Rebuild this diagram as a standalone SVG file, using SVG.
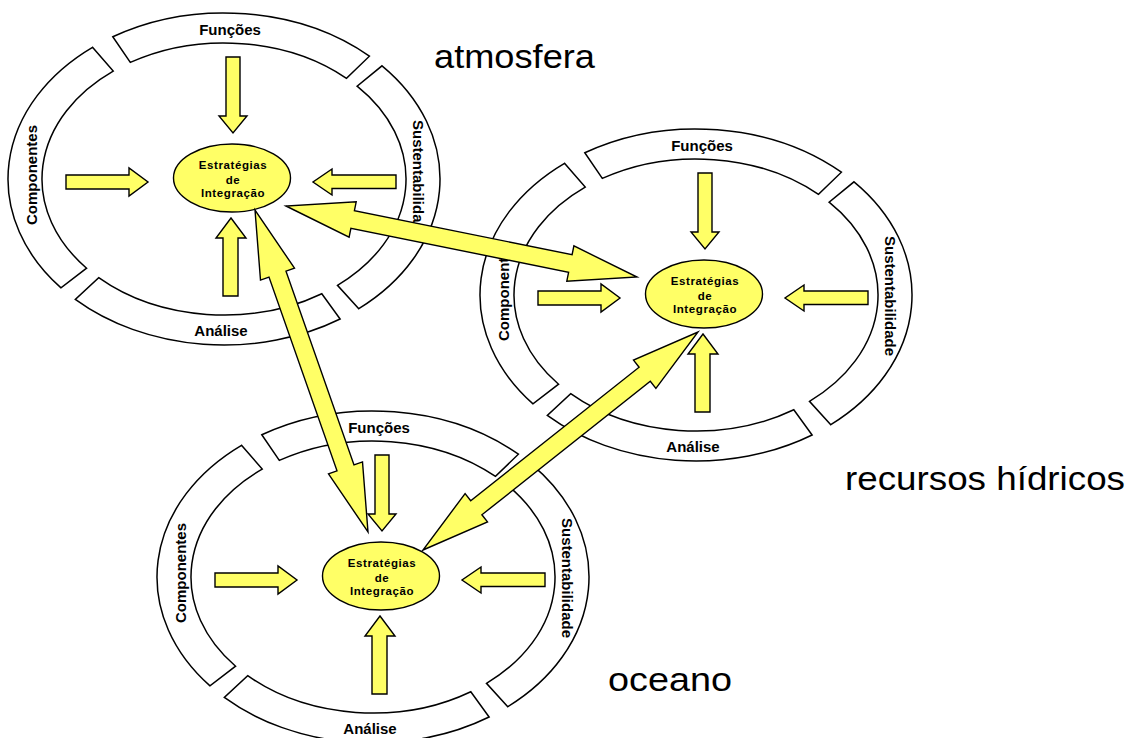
<svg xmlns="http://www.w3.org/2000/svg" xmlns:xlink="http://www.w3.org/1999/xlink" width="1133" height="738" viewBox="0 0 1133 738">
  <style>
    .band { fill: #ffffff; stroke: #000000; stroke-width: 1.5; }
    .yel { fill: #ffff66; stroke: #000000; stroke-width: 1.4; stroke-linejoin: miter; }
    .lbl { font-family: "Liberation Sans", Arial, sans-serif; font-weight: bold; font-size: 15px; fill: #000000; text-anchor: middle; }
    .core { font-family: "Liberation Sans", Arial, sans-serif; font-weight: bold; font-size: 11.5px; letter-spacing: 0.6px; fill: #000000; text-anchor: middle; }
    .big { font-family: "Liberation Sans", Arial, sans-serif; font-size: 34px; fill: #000000; }
  </style>
  <defs>
    <!-- four ring segments around a cluster centre at 0,0 -->
    <g id="ring">
      <path class="band" d="M-111.2,-142.3 A216,166 0 0 1 145.4,-122.8 L122.5,-100.6 A182,136 0 0 0 -93.7,-116.6 Z"/>
      <path class="band" d="M158,-113.2 A216,166 0 0 1 134.8,129.7 L113.5,106.3 A182,136 0 0 0 133.1,-92.8 Z"/>
      <path class="band" d="M116.1,140 A216,166 0 0 1 -148.7,120.4 L-125.3,98.7 A182,136 0 0 0 97.8,114.7 Z"/>
      <path class="band" d="M-163,108.9 A216,166 0 0 1 -131.5,-131.7 L-110.8,-107.9 A182,136 0 0 0 -137.4,89.2 Z"/>
    </g>
    <!-- four inward arrows and the central ellipse -->
    <g id="hub">
      <polygon class="yel" points="2,-122 16,-122 16,-63 23,-63 9,-46 -5,-63 2,-63"/>
      <polygon class="yel" points="-1,117 14,117 14,59 22,59 7,39 -8,59 -1,59"/>
      <polygon class="yel" points="-158,-4 -95,-4 -95,-11 -76,3 -95,17 -95,10 -158,10"/>
      <polygon class="yel" points="172,-4 108,-4 108,-10 89,3 108,16 108,9.5 172,9.5"/>
      <ellipse class="yel" cx="8" cy="-1" rx="58.5" ry="34"/>
    </g>
  </defs>

  <g id="atmosfera" transform="translate(224,179)">
    <use xlink:href="#ring"/>
    <use xlink:href="#hub"/>
    <text class="lbl" x="6" y="-144">Funções</text>
    <text class="lbl" x="-3" y="157">Análise</text>
    <text class="lbl" transform="translate(-187,-4) rotate(-90)">Componentes</text>
    <text class="lbl" transform="translate(189,1) rotate(90)">Sustentabilidade</text>
    <text class="core" x="9" y="-10">Estratégias</text>
    <text class="core" x="9" y="5">de</text>
    <text class="core" x="9" y="18">Integração</text>
  </g>

  <g id="recursos-hidricos" transform="translate(696,295)">
    <use xlink:href="#ring"/>
    <use xlink:href="#hub"/>
    <text class="lbl" x="6" y="-144">Funções</text>
    <text class="lbl" x="-3" y="157">Análise</text>
    <text class="lbl" transform="translate(-187,-4) rotate(-90)">Componentes</text>
    <text class="lbl" transform="translate(189,1) rotate(90)">Sustentabilidade</text>
    <text class="core" x="9" y="-10">Estratégias</text>
    <text class="core" x="9" y="5">de</text>
    <text class="core" x="9" y="18">Integração</text>
  </g>

  <g id="oceano" transform="translate(373,577)">
    <use xlink:href="#ring"/>
    <use xlink:href="#hub"/>
    <text class="lbl" x="6" y="-144">Funções</text>
    <text class="lbl" x="-3" y="157">Análise</text>
    <text class="lbl" transform="translate(-187,-4) rotate(-90)">Componentes</text>
    <text class="lbl" transform="translate(189,1) rotate(90)">Sustentabilidade</text>
    <text class="core" x="9" y="-10">Estratégias</text>
    <text class="core" x="9" y="5">de</text>
    <text class="core" x="9" y="18">Integração</text>
  </g>

  <!-- double-headed links between the three hubs -->
  <g id="connectors">
    <polygon class="yel" points="286,206 349.1,237.1 350.9,228.3 568.6,272.3 566.8,281.2 637,277 573.9,245.9 572.1,254.7 354.4,210.7 356.2,201.8"/>
    <polygon class="yel" points="255,210 260.5,280.1 269,277.1 337,470.8 328.5,473.8 368,532 362.5,461.9 354,464.9 286,271.2 294.5,268.2"/>
    <polygon class="yel" points="423,550 487.5,521.9 481.9,514.8 650.3,381.3 655.9,388.4 698,332 633.5,360.1 639.1,367.2 470.7,500.7 465.1,493.6"/>
  </g>

  <g id="titles">
    <text class="big" x="434" y="67.5" textLength="161" lengthAdjust="spacingAndGlyphs">atmosfera</text>
    <text class="big" x="845" y="490" textLength="280" lengthAdjust="spacingAndGlyphs">recursos hídricos</text>
    <text class="big" x="608" y="691" textLength="124" lengthAdjust="spacingAndGlyphs">oceano</text>
  </g>
</svg>
